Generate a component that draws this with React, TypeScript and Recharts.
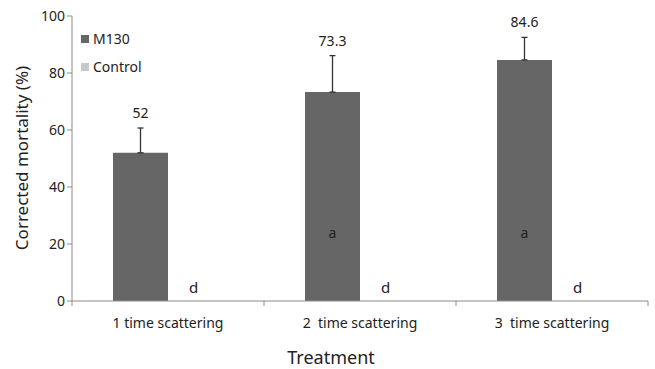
import React from "react";
import { BarChart, Bar, XAxis, YAxis, ErrorBar, LabelList } from "recharts";

const categories = ["1 time scattering", "2  time scattering", "3  time scattering"];
const m130Values = [52, 73.3, 84.6];
const m130ErrUp = [8.7, 12.8, 7.9];
const controlValues = [0, 0, 0];
const m130Letters = ["", "a", "a"];
const controlLetters = ["d", "d", "d"];
const yTicks = [0, 20, 40, 60, 80, 100];

const data = categories.map((c, i) => ({
  name: c,
  m130: m130Values[i],
  err: [0, m130ErrUp[i]],
  control: controlValues[i],
}));

const FONT = "'Noto Sans', 'Open Sans', sans-serif";
const AXIS = "#8c8c8c";
const TEXT = "#222";

const XTick = (props: any) => {
  const { x, y, payload, index } = props;
  const half = payload && payload.offset ? payload.offset : 96;
  return (
    <g>
      <line x1={x - half} y1={y - 8} x2={x - half} y2={y - 3} stroke={AXIS} />
      {index === categories.length - 1 && (
        <line x1={x + half} y1={y - 8} x2={x + half} y2={y - 3} stroke={AXIS} />
      )}
      <text x={x} y={y + 19} textAnchor="middle" fontSize={14} fill={TEXT} fontFamily={FONT} style={{ whiteSpace: "pre" }}>
        {payload.value}
      </text>
    </g>
  );
};

const ValueLabel = (props: any) => {
  const { x, y, width, height, index } = props;
  const v = m130Values[index];
  const ppu = height / v;
  const top = y - m130ErrUp[index] * ppu;
  const letter = m130Letters[index];
  const base = y + height;
  return (
    <g>
      <text x={x + width / 2} y={top - 10} textAnchor="middle" fontSize={14} fill={TEXT} fontFamily={FONT}>
        {String(v)}
      </text>
      {letter && (
        <text x={x + width / 2} y={base - 24 * ppu + 5} textAnchor="middle" fontSize={14} fill={TEXT} fontFamily={FONT}>
          {letter}
        </text>
      )}
      <text x={x + width * 1.5 - 2} y={base - 8} textAnchor="middle" fontSize={15} fill={TEXT} fontFamily={FONT}>
        {controlLetters[index]}
      </text>
    </g>
  );
};

const LegendBox = () => (
  <div style={{ position: "absolute", left: 81, top: 29, fontFamily: FONT, fontSize: 14, color: TEXT, lineHeight: "20px" }}>
    <div style={{ display: "flex", alignItems: "center", height: 20 }}>
      <span style={{ width: 8, height: 8, background: "#666666", marginRight: 4, display: "inline-block" }} />
      M130
    </div>
    <div style={{ display: "flex", alignItems: "center", height: 20, marginTop: 8 }}>
      <span style={{ width: 8, height: 8, background: "#c8c8c8", marginRight: 4, display: "inline-block" }} />
      Control
    </div>
  </div>
);

export default function App() {
  return (
    <div style={{ width: 655, height: 369, background: "#fff", position: "relative" }}>
      <style>{`body{margin:0;}`}</style>
      <BarChart
        width={655}
        height={369}
        data={data}
        margin={{ top: 16, right: 7, bottom: 0, left: 0 }}
        barCategoryGap={41}
        barGap={0}
      >
        <XAxis
          dataKey="name"
          height={68}
          tickLine={false}
          axisLine={{ stroke: AXIS }}
          interval={0}
          tick={<XTick />}
          label={{
            content: () => (
              <text x={331} y={364} textAnchor="middle" fontSize={18} fill={TEXT} fontFamily={FONT}>
                Treatment
              </text>
            ),
          }}
        />
        <YAxis
          width={72}
          domain={[0, 100]}
          ticks={yTicks}
          interval={0}
          tickSize={5}
          tickLine={{ stroke: AXIS }}
          axisLine={{ stroke: AXIS }}
          tick={{ fontSize: 14, fill: TEXT, fontFamily: FONT }}
          label={{
            content: () => (
              <text
                x={28}
                y={158}
                transform="rotate(-90 28 158)"
                textAnchor="middle"
                fontSize={17}
                fill={TEXT}
                fontFamily={FONT}
              >
                Corrected mortality (%)
              </text>
            ),
          }}
        />
        <Bar dataKey="m130" name="M130" fill="#666666" isAnimationActive={false}>
          <ErrorBar dataKey="err" width={3} stroke="#333" strokeWidth={1.3} direction="y" />
          <LabelList dataKey="m130" content={<ValueLabel />} />
        </Bar>
        <Bar dataKey="control" name="Control" fill="#c8c8c8" isAnimationActive={false} />
      </BarChart>
      <LegendBox />
    </div>
  );
}
